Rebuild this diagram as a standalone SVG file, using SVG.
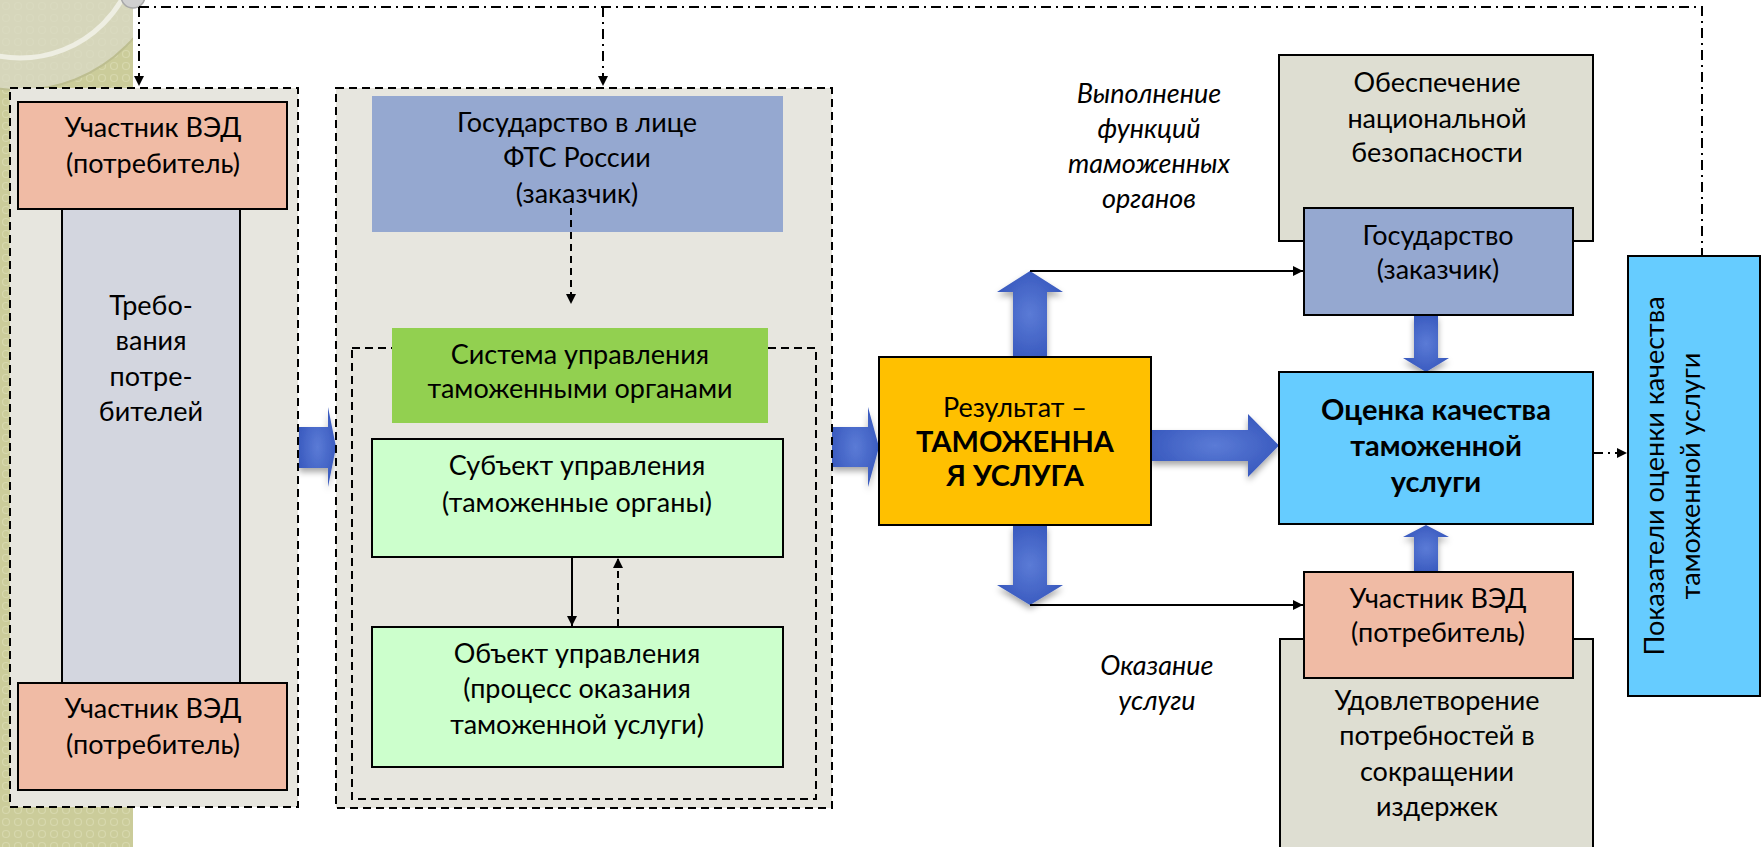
<svg xmlns="http://www.w3.org/2000/svg" width="1763" height="847" viewBox="0 0 1763 847">
<defs>
<style>
.t{font-family:Lato,"Liberation Sans",sans-serif;font-size:27px;fill:#000;text-anchor:middle}
.b{font-weight:bold;font-size:29px}
.i{font-style:italic}
.box{stroke:#000;stroke-width:2}
.dash{fill:#E7E6DF;stroke:#000;stroke-width:2;stroke-dasharray:8 5}
.ln{fill:none;stroke:#000;stroke-width:2}
.dl{fill:none;stroke:#000;stroke-width:2;stroke-dasharray:7 5}
.dd{fill:none;stroke:#000;stroke-width:2;stroke-dasharray:10 5 2 5}
.blk{fill:url(#bg);filter:url(#sh)}
</style>
<radialGradient id="bg" cx="0.5" cy="0.5" r="0.6">
<stop offset="0" stop-color="#5B7BD6"/>
<stop offset="1" stop-color="#3556BC"/>
</radialGradient>
<filter id="sh" x="-30%" y="-30%" width="160%" height="160%">
<feDropShadow dx="0" dy="4" stdDeviation="3" flood-color="#000" flood-opacity="0.35"/>
</filter>
<pattern id="olive" width="12" height="12" patternUnits="userSpaceOnUse">
<rect width="12" height="12" fill="#CBCC9A"/>
<circle cx="6" cy="6" r="3.5" fill="none" stroke="#D7D8AD" stroke-width="1.2"/>
</pattern>
<clipPath id="oc"><rect x="0" y="0" width="133" height="847"/></clipPath>
<marker id="ah" viewBox="0 0 10 10" refX="10" refY="5" markerWidth="5" markerHeight="5" orient="auto" markerUnits="strokeWidth">
<path d="M0,0 L10,5 L0,10 z" fill="#000"/>
</marker>
</defs>
<rect width="1763" height="847" fill="#fff"/>
<g id="decor">
<rect x="0" y="0" width="133" height="847" fill="url(#olive)"/>
<g clip-path="url(#oc)">
<circle cx="20" cy="-60" r="150" fill="#D9D9C6" opacity="0.75"/>
<circle cx="20" cy="-60" r="118" fill="none" stroke="#EEEEE2" stroke-width="5"/>
<circle cx="20" cy="-60" r="150" fill="none" stroke="#BDBE90" stroke-width="2"/>
</g>
<circle cx="133" cy="-4" r="12" fill="#D0D0D0" stroke="#A8A8A8" stroke-width="1.5"/>
</g>

<g id="connectors">
<path class="blk" d="M299,427 H328 V407 L336,447 L328,487 V468 H299 Z"/>
<path class="blk" d="M832,427 H868 V407 L879,447 L868,487 V467 H832 Z"/>
<path class="dd" d="M139,7 H1702 V256"/>
<path class="dd" d="M139,7 V86" marker-end="url(#ah)"/>
<path class="dd" d="M603,7 V86" marker-end="url(#ah)"/>
</g>

<g id="left-panel">
<rect class="dash" x="10" y="88" width="288" height="719"/>
</g>
<g id="req">
<rect class="box" x="62" y="209" width="178" height="474" fill="#D3D6DF"/>
<text class="t" x="151" y="315">Требо-</text>
<text class="t" x="151" y="350">вания</text>
<text class="t" x="151" y="386">потре-</text>
<text class="t" x="151" y="421">бителей</text>
</g>
<g id="ved-top">
<rect class="box" x="18" y="102" width="269" height="107" fill="#F0BBA5"/>
<text class="t" x="153" y="137">Участник ВЭД</text>
<text class="t" x="153" y="173">(потребитель)</text>
</g>
<g id="ved-bottom">
<rect class="box" x="18" y="683" width="269" height="107" fill="#F0BBA5"/>
<text class="t" x="153" y="718">Участник ВЭД</text>
<text class="t" x="153" y="754">(потребитель)</text>
</g>

<g id="mid-panel">
<rect class="dash" x="336" y="88" width="496" height="720"/>
<rect x="352" y="348" width="464" height="451" fill="none" stroke="#000" stroke-width="2" stroke-dasharray="8 5"/>
</g>
<g id="fts">
<rect x="372" y="96" width="411" height="136" fill="#95A8D0"/>
<text class="t" x="577" y="132">Государство в лице</text>
<text class="t" x="577" y="167">ФТС России</text>
<text class="t" x="577" y="203">(заказчик)</text>
</g>
<g id="sys">
<rect x="392" y="328" width="376" height="95" fill="#92D050"/>
<text class="t" x="580" y="364">Система управления</text>
<text class="t" x="580" y="398">таможенными органами</text>
</g>
<g id="subj">
<rect class="box" x="372" y="439" width="411" height="118" fill="#CCFFCC"/>
<text class="t" x="577" y="475">Субъект управления</text>
<text class="t" x="577" y="512">(таможенные органы)</text>
</g>
<g id="obj">
<rect class="box" x="372" y="627" width="411" height="140" fill="#CCFFCC"/>
<text class="t" x="577" y="663">Объект управления</text>
<text class="t" x="577" y="698">(процесс оказания</text>
<text class="t" x="577" y="734">таможенной услуги)</text>
</g>

<g id="connectors2">
<path class="dl" d="M571,208 V304" marker-end="url(#ah)"/>
<path class="ln" d="M572,558 V626" marker-end="url(#ah)"/>
<path class="dl" d="M618,626 V558" marker-end="url(#ah)"/>
<path class="blk" d="M1013,357 V292 H997 L1030,271 L1063,292 H1047 V357 Z"/>
<path class="blk" d="M1013,525 V585 H997 L1030,605 L1063,585 H1047 V525 Z"/>
<path class="blk" d="M1151,430 H1248 V414 L1279,445.5 L1248,477 V461 H1151 Z"/>
<path class="ln" d="M1030,271 H1303" marker-end="url(#ah)"/>
<path class="ln" d="M1030,605 H1303" marker-end="url(#ah)"/>
<path class="blk" d="M1414,315 V358 H1403 L1426,372 L1449,358 H1438 V315 Z"/>
<path class="blk" d="M1414,572 V537 H1403 L1426,525 L1449,537 H1438 V572 Z"/>
<path class="dd" d="M1593,453 H1627" marker-end="url(#ah)"/>
</g>

<g id="result">
<rect class="box" x="879" y="357" width="272" height="168" fill="#FFC000"/>
<text class="t" x="1015" y="417">Результат –</text>
<text class="t b" x="1015" y="452">ТАМОЖЕННА</text>
<text class="t b" x="1015" y="486">Я УСЛУГА</text>
</g>
<g id="label-functions">
<text class="t i" x="1149" y="103">Выполнение</text>
<text class="t i" x="1149" y="138">функций</text>
<text class="t i" x="1149" y="173">таможенных</text>
<text class="t i" x="1149" y="208">органов</text>
</g>
<g id="label-service">
<text class="t i" x="1157" y="675">Оказание</text>
<text class="t i" x="1157" y="710">услуги</text>
</g>
<g id="security">
<rect class="box" x="1279" y="55" width="314" height="186" fill="#DEDED2"/>
<text class="t" x="1437" y="92">Обеспечение</text>
<text class="t" x="1437" y="128">национальной</text>
<text class="t" x="1437" y="162">безопасности</text>
</g>
<g id="state">
<rect class="box" x="1304" y="208" width="269" height="107" fill="#95A8D0"/>
<text class="t" x="1438" y="245">Государство</text>
<text class="t" x="1438" y="279">(заказчик)</text>
</g>
<g id="quality">
<rect class="box" x="1279" y="372" width="314" height="152" fill="#66CCFF"/>
<text class="t b" x="1436" y="420">Оценка качества</text>
<text class="t b" x="1436" y="456">таможенной</text>
<text class="t b" x="1436" y="492">услуги</text>
</g>
<g id="costs">
<rect class="box" x="1280" y="639" width="313" height="220" fill="#DEDED2"/>
<text class="t" x="1437" y="710">Удовлетворение</text>
<text class="t" x="1437" y="745">потребностей в</text>
<text class="t" x="1437" y="781">сокращении</text>
<text class="t" x="1437" y="816">издержек</text>
</g>
<g id="ved-right">
<rect class="box" x="1304" y="572" width="269" height="106" fill="#F0BBA5"/>
<text class="t" x="1438" y="608">Участник ВЭД</text>
<text class="t" x="1438" y="642">(потребитель)</text>
</g>
<g id="indicators">
<rect class="box" x="1628" y="256" width="132" height="440" fill="#66CCFF"/>
<g transform="translate(1664,476) rotate(-90)">
<text class="t" x="0" y="0">Показатели оценки качества</text>
<text class="t" x="0" y="36">таможенной услуги</text>
</g>
</g>
</svg>
